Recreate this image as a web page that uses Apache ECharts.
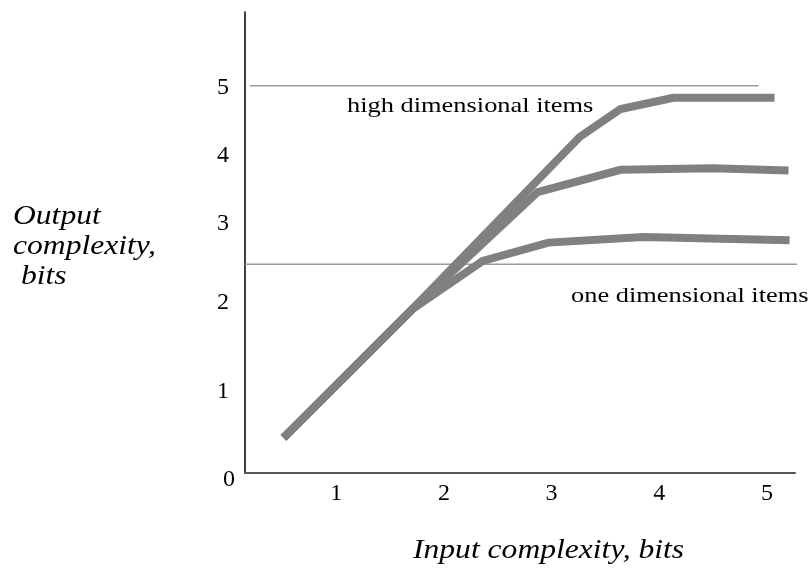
<!DOCTYPE html>
<html>
<head>
<meta charset="utf-8">
<script src="https://cdn.jsdelivr.net/npm/echarts@6/dist/echarts.min.js"></script>
<style>
  html, body { margin: 0; padding: 0; background: #fff; }
  #chart { width: 812px; height: 576px; }
</style>
</head>
<body>
<div id="chart"></div>
<script>
// ---- data ----
const xTickValues = [1, 2, 3, 4, 5];
const xTickLabels = ['1', '2', '3', '4', '5'];
const yTickValues = [0, 1.01, 2.13, 3.11, 3.96, 4.81];
const yTickLabels = ['0', '1', '2', '3', '4', '5'];

const highX = [0.51, 1.70, 3.26, 3.64, 4.13, 5.07];
const highY = [0.44, 2.04, 4.20, 4.55, 4.69, 4.69];
const midX  = [0.51, 1.70, 2.87, 3.64, 4.50, 5.20];
const midY  = [0.44, 2.04, 3.51, 3.79, 3.81, 3.78];
const oneX  = [0.51, 1.70, 2.36, 2.97, 3.85, 5.21];
const oneY  = [0.44, 2.04, 2.65, 2.88, 2.95, 2.91];

const highRefLevel = 4.84;
const highRefX = [0.20, 4.92];
const oneRefLevel = 2.61;
const oneRefX = [0.153, 5.34];

const yTitle = 'Output\ncomplexity,\n bits';
const xTitle = 'Input complexity, bits';
const highText = 'high dimensional items';
const oneText = 'one dimensional items';

// ---- chart ----
const zip = (xs, ys) => xs.map((x, i) => [x, ys[i]]);
const serif = 'Liberation Serif';
const curveStyle = { color: '#808080', width: 8, cap: 'butt', join: 'miter' };

const chart = echarts.init(document.getElementById('chart'), null, { renderer: 'canvas' });
chart.setOption({
  animation: false,
  backgroundColor: '#fff',
  grid: { left: 245, top: 12, right: 17, bottom: 103, containLabel: false },
  xAxis: {
    type: 'value', min: 0.153, max: 5.26,
    axisLine: { show: true, lineStyle: { color: '#555', width: 2 } },
    axisTick: { show: false },
    splitLine: { show: false },
    axisLabel: {
      customValues: xTickValues,
      formatter: (v) => xTickLabels[xTickValues.indexOf(v)],
      fontFamily: serif, fontSize: 24, color: '#000', margin: 9
    }
  },
  yAxis: {
    type: 'value', min: 0, max: 5.7625,
    axisLine: { show: true, lineStyle: { color: '#000', width: 1.5 } },
    axisTick: { show: false },
    splitLine: { show: false },
    axisLabel: {
      customValues: yTickValues,
      formatter: (v) => {
        const t = yTickLabels[yTickValues.indexOf(v)];
        return v === 0 ? '{z|' + t + '}' : t;
      },
      fontFamily: serif, fontSize: 24, color: '#000', margin: 16,
      rich: {
        z: { fontFamily: serif, fontSize: 24, color: '#000', width: 6, align: 'left', padding: [14, 0, 0, 0] }
      }
    }
  },
  series: [
    { type: 'line', data: zip(highRefX, highRefX.map(() => highRefLevel)), symbol: 'none', clip: false,
      lineStyle: { color: '#999', width: 1.5 }, z: 1 },
    { type: 'line', data: zip(oneRefX, oneRefX.map(() => oneRefLevel)), symbol: 'none', clip: false,
      lineStyle: { color: '#999', width: 1.5 }, z: 1 },
    { type: 'line', data: zip(oneX, oneY), symbol: 'none', clip: false, lineStyle: curveStyle, z: 2 },
    { type: 'line', data: zip(midX, midY), symbol: 'none', clip: false, lineStyle: curveStyle, z: 2 },
    { type: 'line', data: zip(highX, highY), symbol: 'none', clip: false, lineStyle: curveStyle, z: 2 }
  ],
  graphic: [
    { type: 'text', x: 347, y: 106, scaleX: 1.2, style: { text: highText, fontFamily: serif, fontSize: 22, fill: '#000', verticalAlign: 'middle', textVerticalAlign: 'middle' } },
    { type: 'text', x: 571, y: 296, scaleX: 1.2, style: { text: oneText, fontFamily: serif, fontSize: 22, fill: '#000', verticalAlign: 'middle', textVerticalAlign: 'middle' } },
    { type: 'text', x: 13, y: 202, scaleX: 1.17, style: { text: yTitle, fontFamily: serif, fontStyle: 'italic', fontSize: 27, fill: '#000', lineHeight: 30 } },
    { type: 'text', x: 413, y: 537, scaleX: 1.17, style: { text: xTitle, fontFamily: serif, fontStyle: 'italic', fontSize: 27, fill: '#000' } }
  ]
});
</script>
</body>
</html>
